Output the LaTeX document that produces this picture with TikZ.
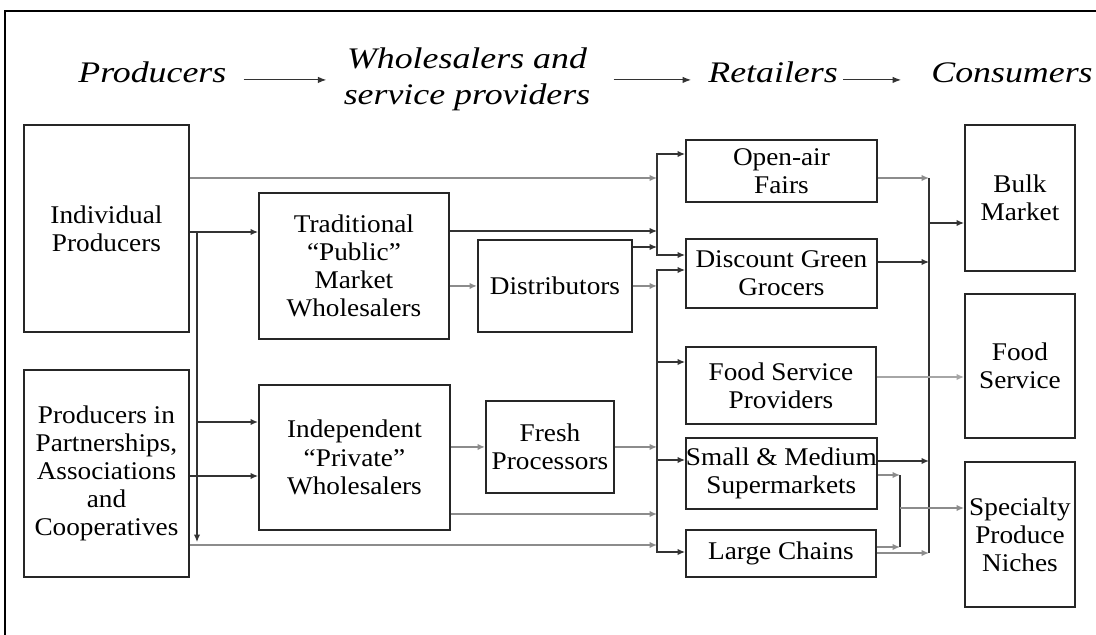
\documentclass[tikz,border=0pt]{standalone}
\usepackage{fontspec}
\setmainfont{Liberation Serif}[FakeStretch=1.07]
\newfontfamily\headfont{Liberation Serif}[FakeStretch=1.2]
\usetikzlibrary{arrows.meta,positioning,calc}

\begin{document}
\begin{tikzpicture}[x=0.02cm, y=-0.02cm,
    box/.style={draw=black!85, line width=1.1pt, inner sep=0pt, align=center,
      anchor=north west, font=\fontsize{14.5}{16}\selectfont},
    head/.style={inner sep=0pt, font=\headfont\itshape\fontsize{17}{20.5}\selectfont},
    headword/.style={head, anchor=base west, text height=0.65em, text depth=0.3em},
    harrow/.style={draw=black!80, line width=0.6pt, -{Latex[length=1.7mm,width=1.3mm]}},
    link/.style={draw=black!80, line width=0.7pt, -{Latex[length=1.5mm,width=1.3mm]}},
    glink/.style={link, draw=black!45, line width=1.1pt},
    bus/.style={draw=black!80, line width=0.9pt}]
        \useasboundingbox (0,0) rectangle (1096,635);

        % Frame
        \draw[line width=0.04cm] (5,635) -- (5,11) -- (1096,11);

        % Stages
        \node[headword] (hprod) at (78,83) {Producers};
        \node[head, align=center] (hwhole) at (467,79) {Wholesalers and\\service providers};
        \node[headword] (hretail) at (708,83) {Retailers};
        \node[headword] (hcons) at (931,83) {Consumers};

        \draw[harrow, shorten <=0.34cm, shorten >=0.34cm] (hprod.east) -- (hprod.east -| hwhole.west);
        \draw[harrow, shorten <=0.46cm, shorten >=0.34cm] (hwhole.east |- hretail.west) -- (hretail.west);
        \draw[harrow, shorten <=0.1cm, shorten >=0.6cm] (hretail.east) -- (hcons.west);

        % Producers
        \node[box, minimum width=3.30cm, minimum height=4.14cm] (IP) at (23,124) {Individual\\Producers};
        \node[box, minimum width=3.30cm, minimum height=4.14cm] (PP) at (23,369) {Producers in\\Partnerships,\\Associations\\and\\Cooperatives};

        % Wholesalers and service providers
        \node[box, minimum width=3.80cm, minimum height=2.92cm] (TW) at (258,192) {Traditional\\“Public”\\Market\\Wholesalers};
        \node[box, minimum width=3.08cm, minimum height=1.84cm] (DI) at (477,239) {Distributors};
        \node[box, minimum width=3.82cm, minimum height=2.90cm] (PW) at (258,384) {Independent\\“Private”\\Wholesalers};
        \node[box, minimum width=2.56cm, minimum height=1.84cm] (FP) at (485,400) {Fresh\\Processors};

        % Retailers
        \node[box, minimum width=3.82cm, minimum height=1.24cm] (OF) at (685,139) {Open-air\\Fairs};
        \node[box, minimum width=3.82cm, minimum height=1.38cm] (DG) at (685,238) {Discount Green\\Grocers};
        \node[box, minimum width=3.80cm, minimum height=1.54cm] (FS) at (685,346) {Food Service\\Providers};
        \node[box, minimum width=3.80cm, minimum height=1.42cm] (SM) at (685,437) {Small \& Medium\\Supermarkets};
        \node[box, minimum width=3.80cm, minimum height=0.94cm] (LC) at (685,529) {Large Chains};

        % Consumers
        \node[box, minimum width=2.20cm, minimum height=2.92cm] (BM) at (964,124) {Bulk\\Market};
        \node[box, minimum width=2.20cm, minimum height=2.88cm] (FC) at (964,293) {Food\\Service};
        \node[box, minimum width=2.20cm, minimum height=2.90cm] (SP) at (964,461) {Specialty\\Produce\\Niches};

        % Bus lines
        \coordinate (pbus) at (197,0);
        \coordinate (lbus) at (657,0);
        \coordinate (sbus) at (900,0);
        \coordinate (rbus) at (929,0);

        % Producers to wholesalers
        \draw[glink] (IP.east |- 0,178) -- (lbus |- 0,178);
        \draw[link] (IP.east |- 0,232) -- (TW.west |- 0,232);
        \draw[link] (pbus |- 0,232) -- (pbus |- 0,542);
        \draw[link, line width=1pt] (pbus |- 0,422) -- (PW.west |- 0,422);
        \draw[link] (PP.east |- 0,476) -- (PW.west |- 0,476);
        \draw[glink] (PP.east |- 0,545) -- (lbus |- 0,545);

        % Wholesalers to retailers
        \draw[link] (TW.east |- 0,231) -- (lbus |- 0,231);
        \draw[glink] (TW.east |- DI.west) -- (DI.west);
        \draw[link] (DI.east |- 0,247) -- (lbus |- 0,247);
        \draw[glink] (DI.east) -- (lbus |- DI.east);
        \draw[glink] (PW.east |- FP.west) -- (FP.west);
        \draw[glink] (FP.east) -- (lbus |- FP.east);
        \draw[glink] (PW.east |- 0,514) -- (lbus |- 0,514);

        % Upper retail bus
        \draw[link] (lbus |- 0,205) |- (OF.west |- 0,154);
        \draw[link] (lbus |- 0,205) |- (DG.west |- 0,255);

        % Lower retail bus
        \draw[link] (lbus |- 0,400) |- (DG.west |- 0,270);
        \draw[link] (lbus |- 0,400) |- (FS.west |- 0,362);
        \draw[link] (lbus |- 0,400) |- (SM.west |- 0,460);
        \draw[link] (lbus |- 0,400) |- (LC.west |- 0,552);

        % Retailers to consumers
        \draw[glink] (OF.east |- 0,178) -- (rbus |- 0,178);
        \draw[link] (DG.east |- 0,262) -- (rbus |- 0,262);
        \draw[link, line width=1pt] (SM.east |- 0,461) -- (rbus |- 0,461);
        \draw[glink] (LC.east |- 0,553) -- (rbus |- 0,553);
        \draw[bus] (rbus |- 0,178) -- (rbus |- 0,553);
        \draw[link] (rbus |- 0,223) -- (BM.west |- 0,223);
        \draw[link, draw=black!35] (FS.east |- 0,377) -- (FC.west |- 0,377);

        % Supermarkets and chains to niches
        \draw[glink] (SM.east |- 0,475) -- (sbus |- 0,475);
        \draw[glink] (LC.east |- 0,547) -- (sbus |- 0,547);
        \draw[bus] (sbus |- 0,475) -- (sbus |- 0,547);
        \draw[link, draw=black!45] (sbus |- 0,508) -- (SP.west |- 0,508);
    \end{tikzpicture}
\end{document}
